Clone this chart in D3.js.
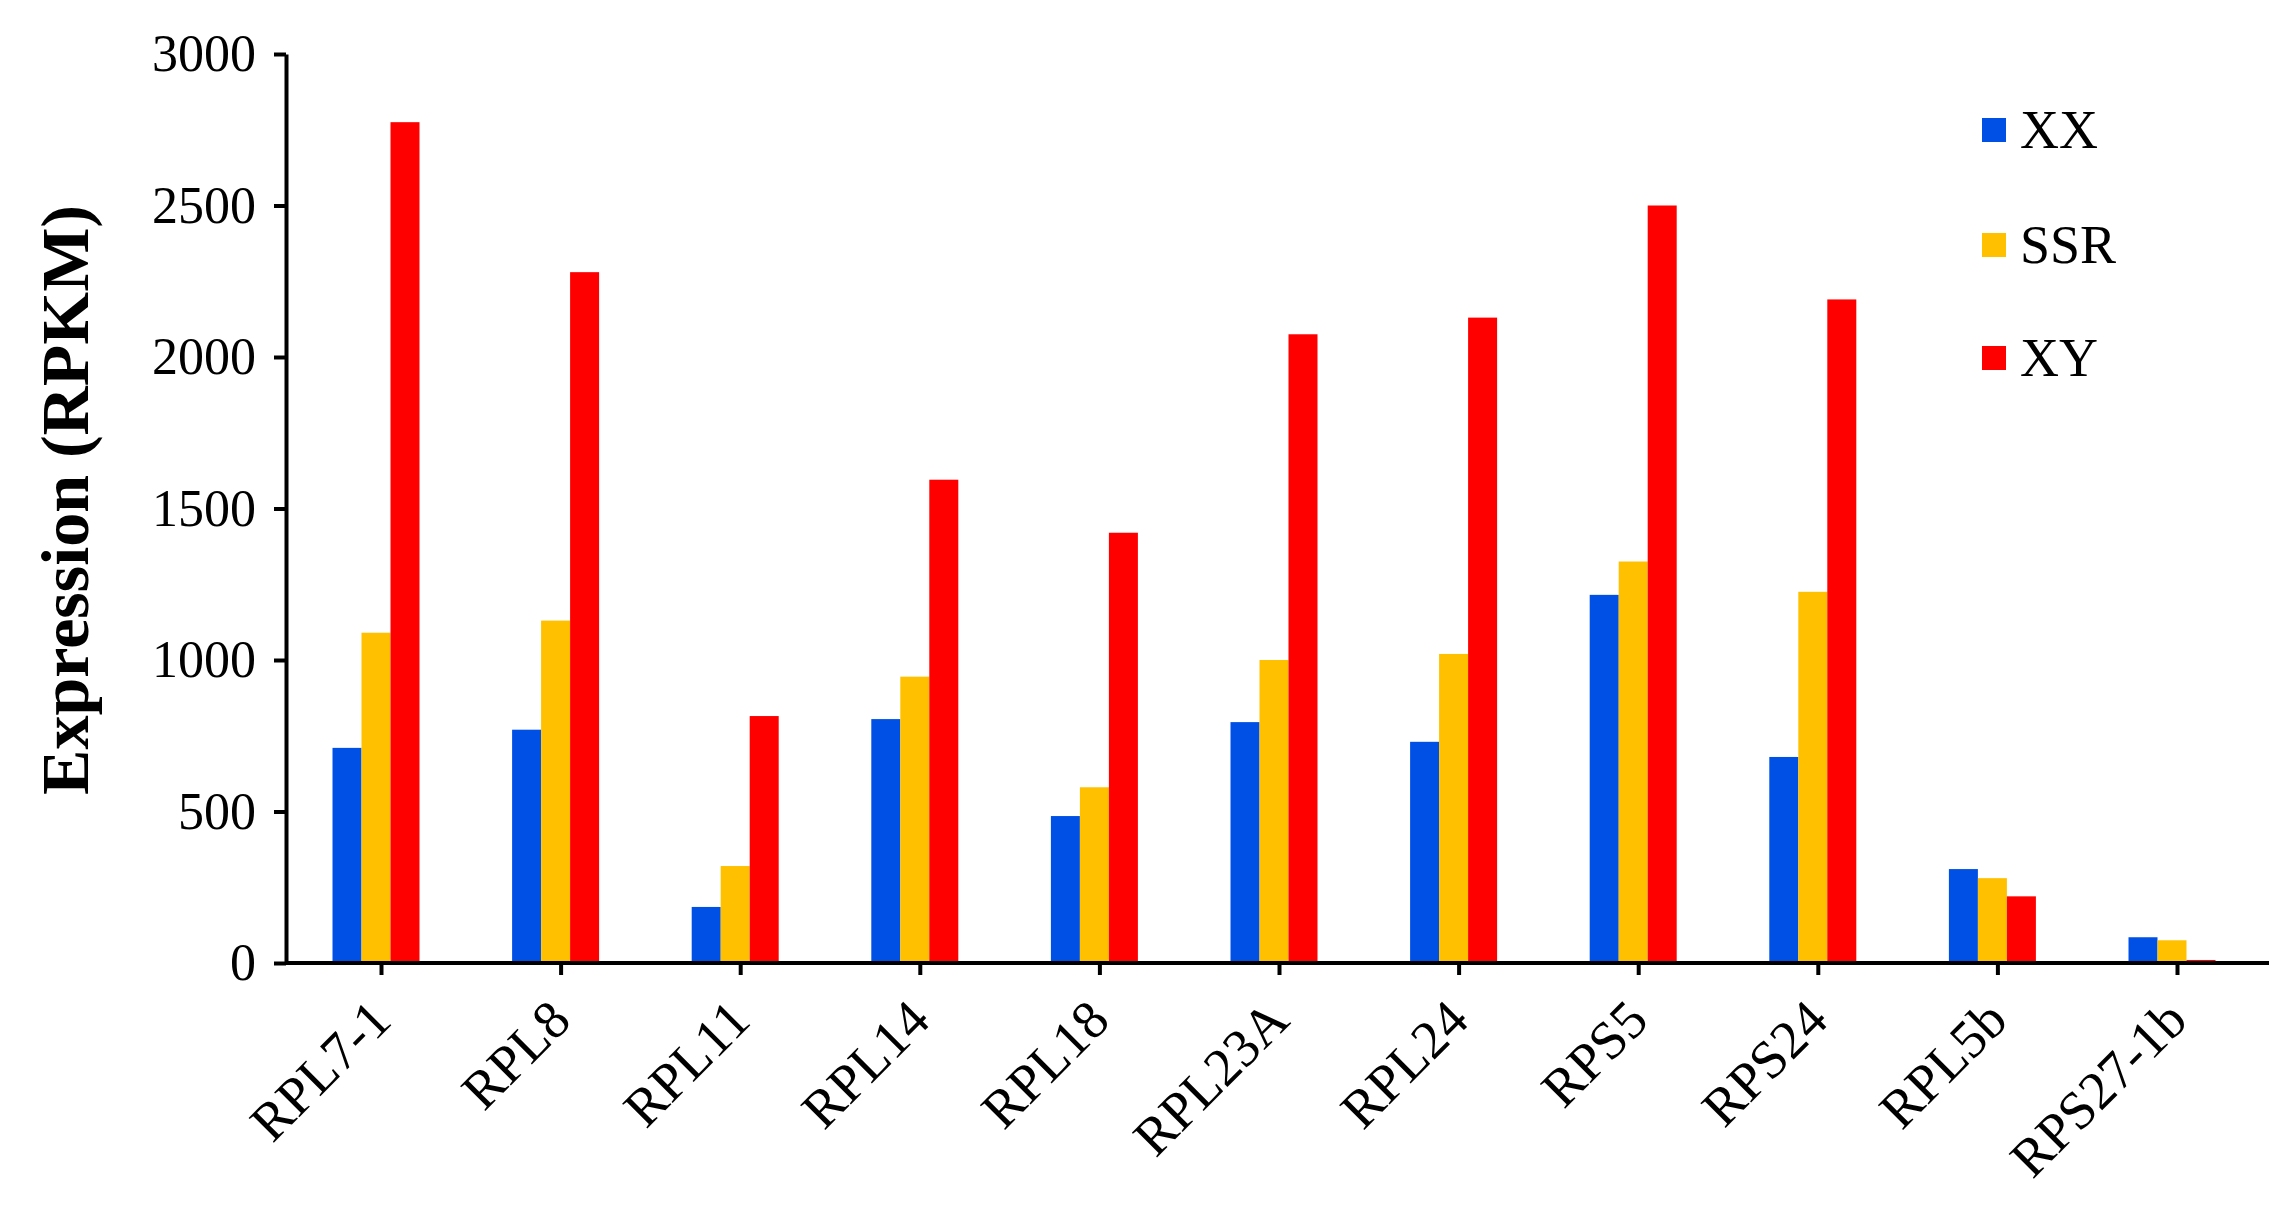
<!DOCTYPE html>
<html><head><meta charset="utf-8">
<script src="https://cdn.jsdelivr.net/npm/d3@7"></script>
<style>body{margin:0;background:#fff}</style></head><body>
<svg id="c" width="2287" height="1231"></svg>
<script>
const categories=["RPL7-1","RPL8","RPL11","RPL14","RPL18","RPL23A","RPL24","RPS5","RPS24","RPL5b","RPS27-1b"];
const seriesNames=["XX","SSR","XY"];
const colors=["#0050e6","#ffc000","#ff0000"];
const XX=[710,770,185,805,485,795,730,1215,680,310,85];
const SSR=[1090,1130,320,945,580,1000,1020,1325,1225,280,75];
const XY=[2775,2280,815,1595,1420,2075,2130,2500,2190,220,10];
const yTicks=[0,500,1000,1500,2000,2500,3000];
const series=[XX,SSR,XY];
const svg=d3.select("#c");
const font="Liberation Serif, Times New Roman, serif";
const x=d3.scalePoint().domain(categories).range([381,2177]);
const y=d3.scaleLinear().domain([0,3000]).range([963,54]);
const bw=29;
series.forEach((s,i)=>{
 svg.append("g").selectAll("rect").data(s).enter().append("rect")
  .attr("x",(d,j)=>x(categories[j])+(i-1.5)*bw-5).attr("width",bw)
  .attr("y",d=>y(d)).attr("height",d=>y(0)-y(d)).attr("fill",colors[i]);
});
const ya=svg.append("g").attr("transform","translate(286,0)")
 .call(d3.axisLeft(y).tickValues(yTicks).tickFormat(d3.format("d")).tickSize(12).tickSizeOuter(0));
ya.select(".domain").attr("stroke-width",4);
ya.selectAll(".tick line").attr("stroke-width",4);
ya.selectAll("text").attr("font-family",font).attr("font-size",52).attr("fill","#000").attr("x",-30);
const xa=svg.append("g").attr("transform","translate(0,963)")
 .call(d3.axisBottom(x).tickSize(12).tickSizeOuter(0));
xa.select(".domain").attr("d","M286,0H2269").attr("stroke-width",4);
xa.selectAll(".tick line").attr("stroke-width",4);
xa.selectAll("text").attr("font-family",font).attr("font-size",54).attr("fill","#000")
 .attr("text-anchor","end").attr("dy",0).attr("y",0)
 .attr("transform","translate(12,60) rotate(-45)");
svg.append("text").attr("transform","translate(88,500) rotate(-90)")
 .attr("text-anchor","middle").attr("font-family",font).attr("font-weight","bold")
 .attr("font-size",68).text("Expression (RPKM)");
const lg=[130,245,358];
seriesNames.forEach((n,i)=>{
 svg.append("rect").attr("x",1982).attr("y",lg[i]-12).attr("width",24).attr("height",24).attr("fill",colors[i]);
 svg.append("text").attr("x",2020).attr("y",lg[i]+18).attr("font-family",font).attr("font-size",54).text(n);
});
</script></body></html>
